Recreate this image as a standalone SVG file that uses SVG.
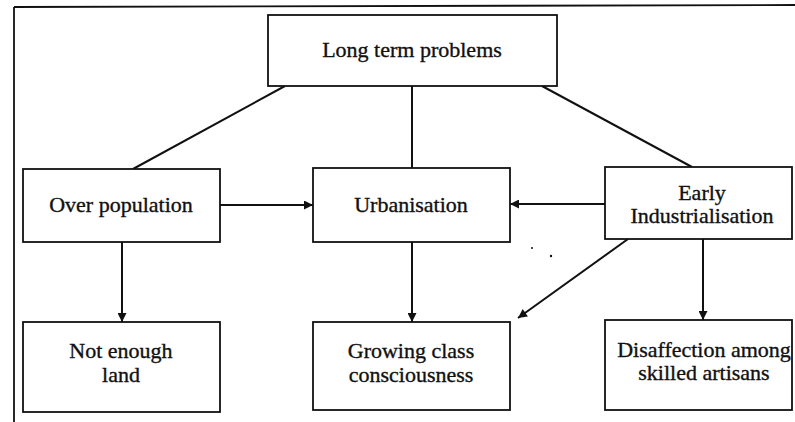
<svg xmlns="http://www.w3.org/2000/svg" width="795" height="422" viewBox="0 0 795 422">
<style>
.box{fill:#fff;stroke:#111;stroke-width:1.8}
.t{font-family:"Liberation Serif","Times New Roman",serif;font-size:22px;fill:#111;text-anchor:middle;stroke:#111;stroke-width:0.35}
.c{stroke:#111;stroke-width:2;fill:none}
.a{marker-end:url(#ah)}
</style>
<defs>
<marker id="ah" viewBox="0 0 10 10" refX="10" refY="5" markerWidth="11" markerHeight="9" markerUnits="userSpaceOnUse" orient="auto">
<path d="M0,0 L10,5 L0,10 z" fill="#111"/>
</marker>
</defs>
<rect width="795" height="422" fill="#fff"/>
<g id="frame">
<line x1="14" y1="7" x2="795" y2="5" stroke="#111" stroke-width="1.8"/>
<line x1="14" y1="7" x2="14" y2="422" stroke="#111" stroke-width="1.8"/>
</g>
<g id="connectors">
<line class="c" x1="285" y1="86" x2="133" y2="169"/>
<line class="c" x1="412" y1="86" x2="412" y2="168"/>
<line class="c" x1="542" y1="86" x2="692" y2="167"/>
<line class="c a" x1="220" y1="205" x2="313" y2="205"/>
<line class="c a" x1="605" y1="204" x2="510" y2="204"/>
<line class="c a" x1="122" y1="242" x2="122" y2="322"/>
<line class="c a" x1="412" y1="242" x2="412" y2="322"/>
<line class="c a" x1="628" y1="239" x2="518" y2="318"/>
<line class="c a" x1="703" y1="239" x2="703" y2="320"/>
</g>
<g id="n-longterm">
<rect class="box" x="268" y="15" width="289" height="71"/>
<text class="t" x="412" y="57">Long term problems</text>
</g>
<g id="n-overpop">
<rect class="box" x="23" y="169" width="197" height="73"/>
<text class="t" x="121" y="212">Over population</text>
</g>
<g id="n-urban">
<rect class="box" x="313" y="168" width="197" height="74"/>
<text class="t" x="411" y="212">Urbanisation</text>
</g>
<g id="n-early">
<rect class="box" x="605" y="167" width="187" height="72"/>
<text class="t" x="702" y="200">Early</text>
<text class="t" x="702" y="223">Industrialisation</text>
</g>
<g id="n-land">
<rect class="box" x="23" y="322" width="197" height="90"/>
<text class="t" x="121" y="358">Not enough</text>
<text class="t" x="121" y="382">land</text>
</g>
<g id="n-class">
<rect class="box" x="313" y="322" width="197" height="88"/>
<text class="t" x="411" y="358">Growing class</text>
<text class="t" x="411" y="382">consciousness</text>
</g>
<g id="n-artisans">
<rect class="box" x="605" y="320" width="187" height="90"/>
<text class="t" x="704" y="357">Disaffection among</text>
<text class="t" x="704" y="380">skilled artisans</text>
</g>
<g id="specks" fill="#111">
<circle cx="532" cy="248" r="1"/>
<circle cx="551" cy="256" r="1.2"/>
</g>
</svg>
